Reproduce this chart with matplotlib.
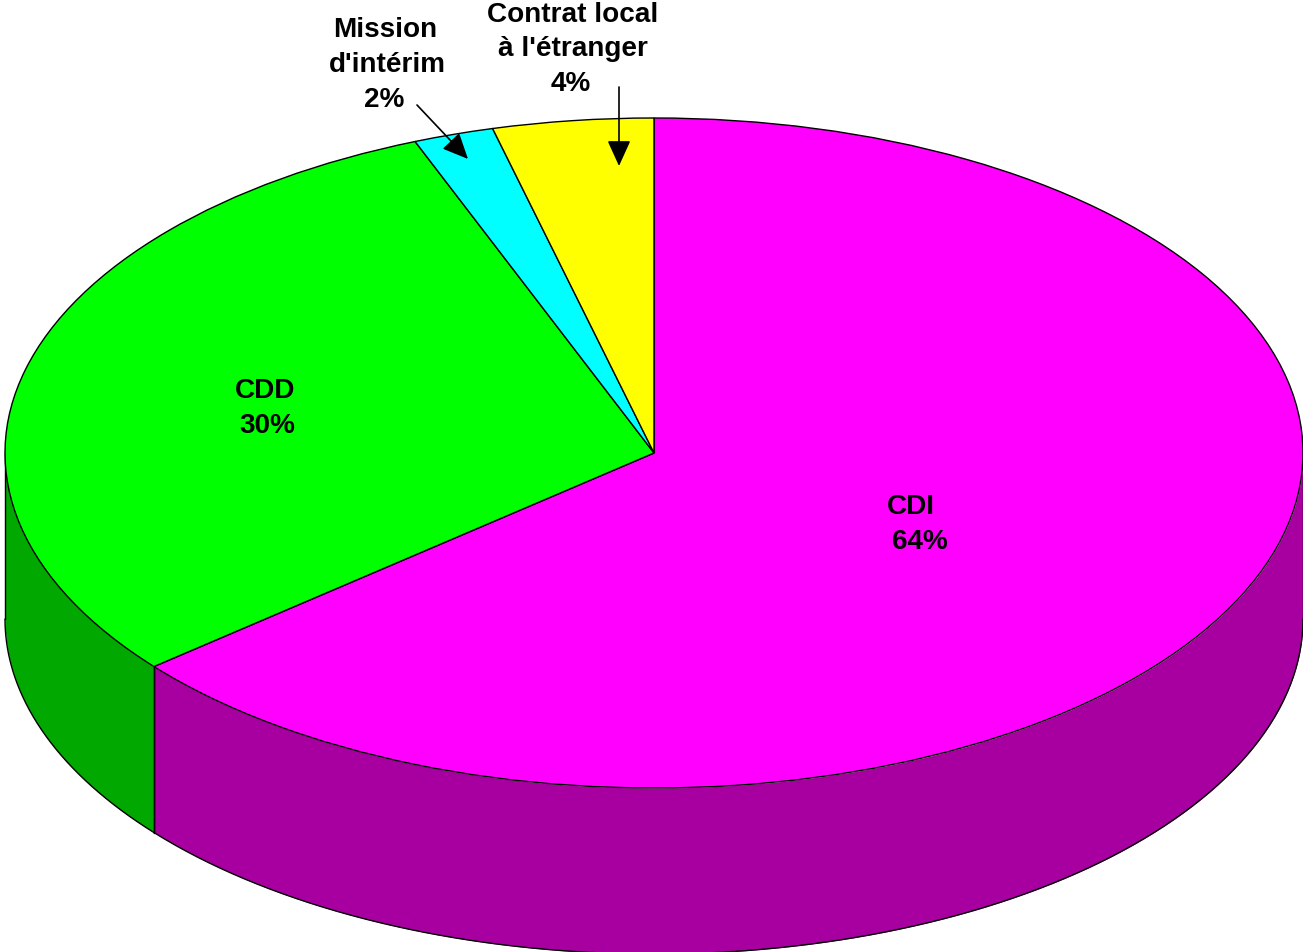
import numpy as np
import matplotlib
matplotlib.use("Agg")
import matplotlib.pyplot as plt

# 파이 데이터
labels = ["CDI", "CDD", "Mission\nd'intérim", "Contrat local\nà l'étranger"]
values = [64, 30, 2, 4]
top_colors = ["#FF00FF", "#00FF00", "#00FFFF", "#FFFF00"]
side_colors = ["#A800A0", "#00A800", "#00A8A8", "#A8A800"]

W, H = 1303, 953
cx, cy = 654, 454    # 타원 중심 (px)
rx, ry = 649, 335    # 타원 반지름 (px)
depth = 166 / ry     # 옆면 높이

plt.rcParams["font.family"] = ["Liberation Sans", "DejaVu Sans"]
fig = plt.figure(figsize=(W / 100, H / 100), dpi=100)
ax = fig.add_axes([0, 0, 1, 1])

# 옆면: 12시에서 시계방향 각도 -> 아래쪽 반(90~270도)만 보임
edges = np.concatenate([[0], np.cumsum(values)]) / sum(values) * 360
for a0, a1, c in zip(edges[:-1], edges[1:], side_colors):
    lo, hi = max(a0, 90), min(a1, 270)
    if lo >= hi:
        continue
    t = np.radians(np.linspace(lo, hi, 200))
    x, y = np.sin(t), np.cos(t)
    ax.fill_between(x, y, y - depth, color=c, lw=0, zorder=1)
    ax.plot(x, y - depth, color="k", lw=1.0, zorder=2, solid_capstyle="round")
    for xe, ye in [(x[0], y[0]), (x[-1], y[-1])]:
        ax.plot([xe, xe], [ye, ye - depth], color="k", lw=1.0, zorder=2, solid_capstyle="round")

# 윗면
wedges, _ = ax.pie(values, colors=top_colors, startangle=90, counterclock=False,
                   wedgeprops={"edgecolor": "k", "linewidth": 1.0, "zorder": 3})
ax.set_aspect("auto")
ax.set_xlim(-cx / rx, (W - cx) / rx)
ax.set_ylim(-(H - cy) / ry, cy / ry)
ax.axis("off")


def to_data(px, py):
    return (px - cx) / rx, (cy - py) / ry


# 라벨 한 줄씩 (원본처럼 줄마다 가운데가 조금씩 어긋남)
label_x = [(911, 920), (265, 267), (385, 387, 384), (573, 572.5, 571)]
label_y = [(504, 539), (388, 423), (27, 62, 97), (12, 46, 81)]
for lab, v, xs, ys in zip(labels, values, label_x, label_y):
    lines = lab.split("\n") + [f"{v}%"]
    for line, px, py in zip(lines, xs, ys):
        ax.text(*to_data(px, py), line, ha="center", va="center_baseline", fontsize=20.1,
                fontweight="bold", zorder=5)

# 화살표
arrows = [((417, 106), (468, 160)), ((619, 88), (619, 167))]
for p0, p1 in arrows:
    ax.annotate("", xy=to_data(*p1), xytext=to_data(*p0), zorder=6,
                arrowprops=dict(arrowstyle="-|>,head_length=1.1,head_width=0.5",
                                color="k", lw=1.2, shrinkA=0, shrinkB=0, mutation_scale=14.4))

fig.savefig("out.png", dpi=100, facecolor="white")
